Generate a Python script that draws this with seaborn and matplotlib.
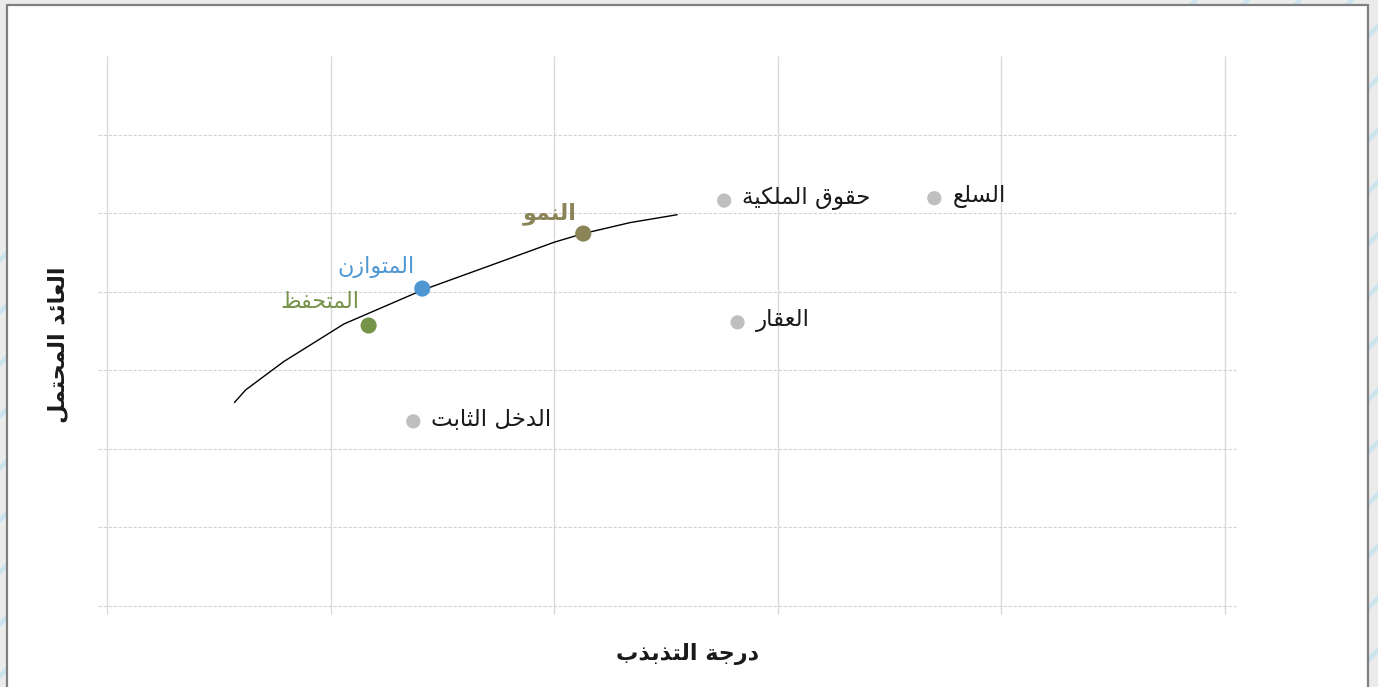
import pandas as pd
import matplotlib.pyplot as plt
import seaborn as sns
from matplotlib.lines import Line2D
from matplotlib.patches import Rectangle

# --- datos ---
portfolio_names = ['المتحفظ', 'المتوازن', 'النمو']
portfolio_x = [1.17, 1.41, 2.13]
portfolio_y = [3.57, 4.04, 4.74]
portfolio_colors = ['#76934a', '#4e97d3', '#8a8458']

asset_names = ['الدخل الثابت', 'العقار', 'حقوق الملكية', 'السلع']
asset_x = [1.37, 2.82, 2.76, 3.70]
asset_y = [2.35, 3.61, 5.16, 5.19]

frontier_x = [0.57, 0.62, 0.79, 1.06, 1.41, 1.73, 2.00, 2.13, 2.34, 2.55]
frontier_y = [2.59, 2.75, 3.11, 3.59, 4.02, 4.35, 4.63, 4.74, 4.88, 4.98]

x_label = 'درجة التذبذب'
y_label = 'العائد المحتمل'

# --- formas árabes (matplotlib no hace shaping) ---
FORMS = {
    'ا': ('\uFE8D', '\uFE8E'), 'د': ('\uFEA9', '\uFEAA'), 'ذ': ('\uFEAB', '\uFEAC'),
    'ر': ('\uFEAD', '\uFEAE'), 'ز': ('\uFEAF', '\uFEB0'), 'و': ('\uFEED', '\uFEEE'),
    'ة': ('\uFE93', '\uFE94'),
    'ب': ('\uFE8F', '\uFE90', '\uFE91', '\uFE92'), 'ت': ('\uFE95', '\uFE96', '\uFE97', '\uFE98'),
    'ث': ('\uFE99', '\uFE9A', '\uFE9B', '\uFE9C'), 'ج': ('\uFE9D', '\uFE9E', '\uFE9F', '\uFEA0'),
    'ح': ('\uFEA1', '\uFEA2', '\uFEA3', '\uFEA4'), 'خ': ('\uFEA5', '\uFEA6', '\uFEA7', '\uFEA8'),
    'س': ('\uFEB1', '\uFEB2', '\uFEB3', '\uFEB4'), 'ظ': ('\uFEC5', '\uFEC6', '\uFEC7', '\uFEC8'),
    'ع': ('\uFEC9', '\uFECA', '\uFECB', '\uFECC'), 'ف': ('\uFED1', '\uFED2', '\uFED3', '\uFED4'),
    'ق': ('\uFED5', '\uFED6', '\uFED7', '\uFED8'), 'ك': ('\uFED9', '\uFEDA', '\uFEDB', '\uFEDC'),
    'ل': ('\uFEDD', '\uFEDE', '\uFEDF', '\uFEE0'), 'م': ('\uFEE1', '\uFEE2', '\uFEE3', '\uFEE4'),
    'ن': ('\uFEE5', '\uFEE6', '\uFEE7', '\uFEE8'), 'ي': ('\uFEF1', '\uFEF2', '\uFEF3', '\uFEF4'),
    'ئ': ('\uFE89', '\uFE8A', '\uFE8B', '\uFE8C'),
}


def shape(text):
    out = []
    for i, ch in enumerate(text):
        if ch not in FORMS:
            out.append(ch)
            continue
        prev = text[i - 1] if i > 0 else ''
        nxt = text[i + 1] if i + 1 < len(text) else ''
        joins_prev = prev in FORMS and len(FORMS[prev]) == 4
        joins_next = len(FORMS[ch]) == 4 and nxt in FORMS
        f = FORMS[ch]
        if joins_prev and joins_next:
            out.append(f[3])
        elif joins_prev:
            out.append(f[1])
        elif joins_next:
            out.append(f[2])
        else:
            out.append(f[0])
    return ''.join(out)[::-1]


df_port = pd.DataFrame({'x': portfolio_x, 'y': portfolio_y, 'name': portfolio_names})
df_asset = pd.DataFrame({'x': asset_x, 'y': asset_y, 'name': asset_names})
df_front = pd.DataFrame({'x': frontier_x, 'y': frontier_y})

sns.set_theme(style="white")
plt.rcParams['font.family'] = ['DejaVu Sans']

fig = plt.figure(figsize=(13.78, 6.87), dpi=100)
fig.patch.set_facecolor('#ebebeb')
W, H = 1378, 687

# rayas de fondo
for c in range(-700, 2200, 52):
    c0 = c + 24
    fig.add_artist(Line2D([c0 / W, (c0 - H) / W], [1, 0], color='#cde4ee',
                          lw=3.4, transform=fig.transFigure, zorder=0))
# zonas del margen sin rayas
fig.add_artist(Rectangle((0, (H - 6) / H), 1190 / W, 6 / H, facecolor='#ebebeb',
                         edgecolor='none', transform=fig.transFigure, zorder=0.5))
fig.add_artist(Rectangle((0, (H - 210) / H), 8 / W, 210 / H, facecolor='#ebebeb',
                         edgecolor='none', transform=fig.transFigure, zorder=0.5))
fig.add_artist(Rectangle((7 / W, -0.02), (1368 - 7) / W, (H - 5) / H + 0.02,
                         facecolor='white', edgecolor='#7f7f7f', lw=1.6,
                         transform=fig.transFigure, zorder=1))

ax = fig.add_axes([107 / W, 81 / H, (1225 - 107) / W, (606 - 56) / H])
ax.set_zorder(2)
ax.patch.set_alpha(0)
ax.set_xlim(0, 5)
ax.set_ylim(0, 7)
for s in ax.spines.values():
    s.set_visible(False)
ax.set_xticks([])
ax.set_yticks([])

# rejilla
ax.vlines(range(0, 6), -0.1, 7, color='#dadada', lw=1, clip_on=False, zorder=0)
ax.hlines(range(0, 7), -0.04, 5.05, color='#d2d2d2', lw=0.8,
          linestyles=(0, (3, 1.5)), clip_on=False, zorder=0)

sns.lineplot(data=df_front, x='x', y='y', sort=False, color='black', lw=1.0, ax=ax, zorder=3)
sns.scatterplot(data=df_asset, x='x', y='y', color='#bfbfbf', s=105,
                edgecolor='none', ax=ax, zorder=4)
sns.scatterplot(data=df_port, x='x', y='y', hue='name', palette=portfolio_colors,
                s=135, edgecolor='none', legend=False, ax=ax, zorder=5)
ax.set_xlabel('')
ax.set_ylabel('')

port_offsets = [(-9, 23), (-8, 22), (-7, 20)]
for (x, y, n, col, off) in zip(portfolio_x, portfolio_y, portfolio_names, portfolio_colors, port_offsets):
    ax.annotate(shape(n), (x, y), xytext=off, textcoords='offset pixels',
                ha='right', va='center', fontsize=16, color=col,
                fontweight='bold' if n == 'النمو' else 'normal')

for x, y, n in zip(asset_x, asset_y, asset_names):
    ax.annotate(shape(n), (x, y), xytext=(18, 2), textcoords='offset pixels',
                ha='left', va='center', fontsize=16.5, color='#1a1a1a')

fig.text(688 / W, (H - 654) / H, shape(x_label), ha='center', va='center',
         fontsize=16, fontweight='bold', color='#1a1a1a')
fig.text(58 / W, (H - 345) / H, shape(y_label), ha='center', va='center',
         rotation=90, fontsize=16, fontweight='bold', color='#1a1a1a')

plt.savefig('out.png', dpi=100, facecolor=fig.get_facecolor())
plt.close()
